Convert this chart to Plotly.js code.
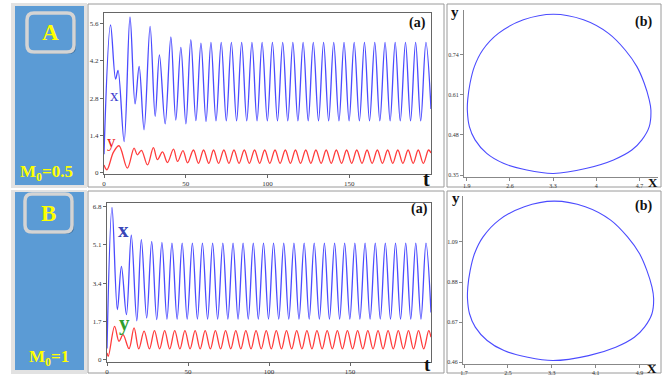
<!DOCTYPE html>
<html><head><meta charset="utf-8">
<script src="https://cdn.plot.ly/plotly-3.0.1.min.js"></script>
<style>html,body{margin:0;padding:0;background:#fff;overflow:hidden}#chart{width:667px;height:376px}</style>
</head><body><div id="chart"></div>
<script>
// ---------- DATA ----------
// Panel A (M0=0.5): time series, extrema
const tA_x = [0, 4.0, 7.1, 8.6, 12.3, 15.9, 19.0, 21.5, 24.5, 28.2, 31.3, 33.9, 37.4, 40.9, 43.9, 47.0, 50.1, 53.1, 56.2, 59.3, 62.4,
  65.4, 68.5, 71.7, 74.8, 77.9, 81.1, 84.2, 87.3, 90.5, 93.6, 96.7, 99.9, 103.0, 106.1, 109.3, 112.4, 115.5, 118.6, 121.8, 124.9,
  128.0, 131.2, 134.3, 137.4, 140.5, 143.7, 146.8, 149.9, 153.0, 156.2, 159.3, 162.4, 165.6, 168.7, 171.9, 175.0, 178.1, 181.2,
  184.4, 187.5, 190.6, 193.7, 196.9, 200];
const vA_x = [0.7, 5.55, 3.52, 3.85, 1.18, 5.85, 2.59, 4.0, 1.62, 5.5, 2.12, 4.43, 1.84, 5.1, 1.98, 4.71, 1.84, 5.0, 1.96, 4.87, 1.93,
  4.9, 1.95, 4.9, 1.95, 4.9, 1.95, 4.9, 1.95, 4.9, 1.95, 4.9, 1.95, 4.9, 1.95, 4.9, 1.95, 4.9, 1.95, 4.9, 1.95,
  4.9, 1.95, 4.9, 1.95, 4.9, 1.95, 4.9, 1.95, 4.9, 1.95, 4.9, 1.95, 4.9, 1.95, 4.9, 1.95, 4.9, 1.95,
  4.9, 1.95, 4.9, 1.95, 4.9, 2.4];
const tA_y = [0, 1.8, 5.8, 9.2, 14.3, 18.4, 20.4, 22.9, 26.6, 30.2, 32.7, 35.8, 38.8, 42.5, 45.0, 48.3, 51.1,
  54.7, 57.8, 60.9, 64.1, 67.0, 70.1, 73.3, 76.4, 79.5, 82.6, 85.8, 88.9, 92.1, 95.2, 98.3, 101.4, 104.6, 107.7,
  110.9, 114.0, 117.1, 120.2, 123.4, 126.5, 129.6, 132.8, 135.9, 139.0, 142.1, 145.3, 148.4, 151.5, 154.6, 157.8,
  160.9, 164.0, 167.2, 170.3, 173.5, 176.6, 179.7, 182.8, 186.0, 189.1, 192.2, 195.3, 198.5, 200];
const vA_y = [0.3, 0.12, 0.78, 1.02, 0.18, 0.93, 0.68, 0.85, 0.3, 0.95, 0.5, 0.79, 0.39, 0.89, 0.43, 0.84, 0.38,
  0.86, 0.36, 0.86, 0.36, 0.86, 0.36, 0.86, 0.36, 0.86, 0.36, 0.86, 0.36, 0.86, 0.36, 0.86, 0.36, 0.86, 0.36,
  0.86, 0.36, 0.86, 0.36, 0.86, 0.36, 0.86, 0.36, 0.86, 0.36, 0.86, 0.36, 0.86, 0.36, 0.86, 0.36,
  0.86, 0.36, 0.86, 0.36, 0.86, 0.36, 0.86, 0.36, 0.86, 0.36, 0.86, 0.36, 0.86, 0.75];
// Panel B (M0=1): time series
const tB_x = [0, 3.1, 6.4, 8.9, 12.0, 15.0, 18.4, 21.2, 24.5, 27.6, 30.7, 33.9, 37.0, 40.1, 43.3, 46.4, 49.5, 52.7, 55.8,
  58.9, 62.1, 65.2, 68.3, 71.5, 74.6, 77.8, 80.9, 84.0, 87.2, 90.3, 93.4, 96.6, 99.7, 102.8, 106.0, 109.1, 112.2,
  115.4, 118.5, 121.7, 124.8, 127.9, 131.1, 134.2, 137.3, 140.5, 143.6, 146.7, 149.9, 153.0, 156.1, 159.3, 162.4,
  165.6, 168.7, 171.8, 175.0, 178.1, 181.2, 184.4, 187.5, 190.6, 193.8, 196.9, 200];
const vB_x = [0.5, 6.75, 2.22, 4.14, 2.0, 5.52, 1.73, 5.33, 1.85, 5.25, 1.78, 5.2, 1.8, 5.17, 1.8, 5.17, 1.8, 5.17, 1.8,
  5.17, 1.8, 5.17, 1.8, 5.17, 1.8, 5.17, 1.8, 5.17, 1.8, 5.17, 1.8, 5.17, 1.8, 5.17, 1.8, 5.17, 1.8,
  5.17, 1.8, 5.17, 1.8, 5.17, 1.8, 5.17, 1.8, 5.17, 1.8, 5.17, 1.8, 5.17, 1.8, 5.17, 1.8,
  5.17, 1.8, 5.17, 1.8, 5.17, 1.8, 5.17, 1.8, 5.17, 1.8, 5.17, 2.1];
const tB_y = [0, 0.8, 4.7, 7.4, 9.9, 13.6, 16.7, 19.6, 22.9, 26.2, 29.3, 32.5, 35.6, 38.7, 41.8, 45.0, 48.1, 51.3,
  54.4, 57.5, 60.6, 63.8, 66.9, 70.1, 73.2, 76.4, 79.5, 82.6, 85.7, 88.9, 92.0, 95.2, 98.3, 101.4, 104.5, 107.7,
  110.8, 114.0, 117.1, 120.3, 123.4, 126.5, 129.6, 132.8, 135.9, 139.1, 142.2, 145.3, 148.4, 151.6, 154.7, 157.9,
  161.0, 164.2, 167.3, 170.4, 173.5, 176.7, 179.8, 183.0, 186.1, 189.2, 192.3, 195.5, 198.6, 200];
const vB_y = [0.3, 0.15, 1.48, 0.82, 1.11, 0.49, 1.41, 0.48, 1.27, 0.48, 1.29, 0.48, 1.29, 0.48, 1.29, 0.48, 1.29, 0.48,
  1.29, 0.48, 1.29, 0.48, 1.29, 0.48, 1.29, 0.48, 1.29, 0.48, 1.29, 0.48, 1.29, 0.48, 1.29, 0.48, 1.29, 0.48,
  1.29, 0.48, 1.29, 0.48, 1.29, 0.48, 1.29, 0.48, 1.29, 0.48, 1.29, 0.48, 1.29, 0.48, 1.29, 0.48,
  1.29, 0.48, 1.29, 0.48, 1.29, 0.48, 1.29, 0.48, 1.29, 0.48, 1.29, 0.48, 1.29, 1.0];
// Phase portraits (limit cycles), points read around the loop (clockwise from the top)
const phA_x = [3.305, 3.792, 4.198, 4.468, 4.658, 4.777, 4.858, 4.885, 4.858, 4.739, 4.576, 4.279, 3.846, 3.305,
  2.873, 2.494, 2.224, 2.035, 1.943, 1.91, 1.916, 1.954, 2.024, 2.159, 2.413, 2.819, 3.305];
const phA_y = [0.872, 0.854, 0.810, 0.756, 0.702, 0.648, 0.594, 0.561, 0.507, 0.464, 0.431, 0.399, 0.372, 0.355,
  0.366, 0.388, 0.420, 0.464, 0.507, 0.561, 0.594, 0.648, 0.702, 0.756, 0.810, 0.854, 0.872];
const phB_x = [3.342, 3.910, 4.373, 4.681, 4.898, 5.033, 5.126, 5.157, 5.126, 4.990, 4.805, 4.465, 3.972, 3.323,
  2.861, 2.428, 2.120, 1.904, 1.799, 1.762, 1.768, 1.811, 1.891, 2.046, 2.336, 2.799, 3.342];
const phB_y = [1.303, 1.274, 1.204, 1.116, 1.029, 0.941, 0.854, 0.792, 0.714, 0.644, 0.591, 0.539, 0.495, 0.469,
  0.486, 0.521, 0.574, 0.644, 0.714, 0.792, 0.854, 0.941, 1.029, 1.116, 1.204, 1.274, 1.303];
// Tick labels
const tsXticks = [0, 50, 100, 150];
const tsAYticks = [0, 1.4, 2.8, 4.2, 5.6];
const tsBYticks = [0, 1.7, 3.4, 5.1, 6.8];
const phAXticks = [1.9, 2.6, 3.3, 4, 4.7];
const phAYticks = [0.35, 0.48, 0.61, 0.74];
const phBXticks = [1.7, 2.5, 3.3, 4.1, 4.9];
const phBYticks = [0.46, 0.67, 0.88, 1.09];
const panelLabels = ['A', 'B'];
const panelParams = ['M<sub>0</sub>=0.5', 'M<sub>0</sub>=1'];

// ---------- LAYOUT ----------
const W = 667, H = 376;
const px = v => v / W, py = v => 1 - v / H;
const SERIF = 'Liberation Serif, Times New Roman, serif';
const BLUE = '#4b4bff', RED = '#ff3c3c';

function rr(x0, y0, x1, y1, r) {
  return `M${px(x0+r)},${py(y0)} L${px(x1-r)},${py(y0)} Q${px(x1)},${py(y0)} ${px(x1)},${py(y0+r)} ` +
    `L${px(x1)},${py(y1-r)} Q${px(x1)},${py(y1)} ${px(x1-r)},${py(y1)} L${px(x0+r)},${py(y1)} ` +
    `Q${px(x0)},${py(y1)} ${px(x0)},${py(y1-r)} L${px(x0)},${py(y0+r)} Q${px(x0)},${py(y0)} ${px(x0+r)},${py(y0)} Z`;
}
function rect(x0, y0, x1, y1, fill, line, lw) {
  return {type: 'rect', xref: 'paper', yref: 'paper', x0: px(x0), x1: px(x1), y0: py(y1), y1: py(y0),
    fillcolor: fill || 'rgba(0,0,0,0)', line: {color: line || 'rgba(0,0,0,0)', width: lw || 0}, layer: 'below'};
}
const shapes = [
  rect(11, 3, 87, 188, '#e2e2e2'), rect(15, 6, 84, 185, '#5b9bd5'),
  rect(11, 190, 87, 374, '#e2e2e2'), rect(15, 192, 84, 370, '#5b9bd5'),
  {type: 'path', xref: 'paper', yref: 'paper', path: rr(29, 15, 76, 54, 7), fillcolor: '#41729f', line: {width: 0}, layer: 'below'},
  {type: 'path', xref: 'paper', yref: 'paper', path: rr(27, 13, 74, 52, 7), fillcolor: '#5b9bd5', line: {color: '#d4d4d4', width: 3.5}, layer: 'below'},
  {type: 'path', xref: 'paper', yref: 'paper', path: rr(27, 196, 74, 234, 7), fillcolor: '#41729f', line: {width: 0}, layer: 'below'},
  {type: 'path', xref: 'paper', yref: 'paper', path: rr(25, 194, 72, 232, 7), fillcolor: '#5b9bd5', line: {color: '#d4d4d4', width: 3.5}, layer: 'below'},
  rect(88, 4, 444, 187, null, '#9a9a9a', 1), rect(88, 191, 444, 373, null, '#9a9a9a', 1),
  rect(447, 4, 661, 187, null, '#9a9a9a', 1), rect(447, 191, 661, 373, null, '#9a9a9a', 1)
];

function ann(text, x, y, size, color, bold) {
  return {text: text, xref: 'paper', yref: 'paper', x: px(x), y: py(y), xanchor: 'center', yanchor: 'middle',
    showarrow: false, font: {family: SERIF, size: size, color: color, weight: bold ? 'bold' : 'normal'}};
}
const annotations = [
  ann(panelLabels[0], 50.5, 33, 23, '#ffff00', true), ann(panelLabels[1], 48.5, 213, 23, '#ffff00', true),
  ann(panelParams[0], 46, 173, 17, '#ffff00', true), ann(panelParams[1], 49, 358, 17, '#ffff00', true),
  ann('(a)', 418, 23, 14, '#111', true), ann('(a)', 419, 209, 14, '#111', true),
  ann('t', 426, 179, 20, '#111', true), ann('t', 427, 364, 19, '#111', true),
  ann('x', 114, 96, 17, '#4040d0', false), ann('y', 111, 141, 17, '#ee2020', false),
  ann('x', 123, 230, 21, '#3a46b8', true), ann('y', 124, 323, 21, '#2e9e2e', true),
  ann('(b)', 643, 22, 14, '#111', true), ann('(b)', 643, 206, 14, '#111', true),
  ann('y', 455, 12, 15, '#111', true), ann('y', 456, 198, 15, '#111', true),
  ann('X', 653, 182, 13, '#111', true), ann('X', 652, 368, 13, '#111', true)
];

const tickFont = {family: SERIF, size: 7, color: '#333'};
const tickFontS = {family: SERIF, size: 6, color: '#333'};
function ax(domain, range, vals, anchor, mirror, color, font) {
  return {domain: domain, range: range, tickvals: vals, ticktext: vals.map(String), anchor: anchor,
    showline: true, mirror: mirror, linecolor: color, linewidth: 1, ticks: 'outside', ticklen: 3, tickcolor: color,
    showgrid: false, zeroline: false, tickfont: font, fixedrange: true};
}

const layout = {
  width: W, height: H, margin: {l: 0, r: 0, t: 0, b: 0}, paper_bgcolor: '#ffffff', plot_bgcolor: 'rgba(0,0,0,0)',
  showlegend: false, shapes: shapes, annotations: annotations,
  xaxis: ax([px(104), px(431)], [0, 200], tsXticks, 'y', true, '#666', tickFont),
  yaxis: ax([py(174), py(13)], [-0.04, 6.0], tsAYticks, 'x', true, '#666', tickFont),
  xaxis2: ax([px(107), px(431)], [0, 200], tsXticks, 'y2', true, '#666', tickFont),
  yaxis2: ax([py(362), py(203)], [-0.1, 6.95], tsBYticks, 'x2', true, '#666', tickFont),
  xaxis3: ax([px(464), px(658)], [1.856, 5.0], phAXticks, 'y3', false, '#888', tickFontS),
  yaxis3: ax([py(177), py(10)], [0.3435, 0.886], phAYticks, 'x3', false, '#888', tickFontS),
  xaxis4: ax([px(463), px(656)], [1.68, 5.2], phBXticks, 'y4', false, '#888', tickFontS),
  yaxis4: ax([py(364), py(196)], [0.451, 1.33], phBYticks, 'x4', false, '#888', tickFontS)
};

function tr(x, y, xa, ya, color, w, sm) {
  return {x: x, y: y, xaxis: xa, yaxis: ya, type: 'scatter', mode: 'lines', hoverinfo: 'skip',
    line: {color: color, width: w, shape: 'spline', smoothing: sm}};
}
const data = [
  tr(tA_x, vA_x, 'x', 'y', BLUE, 1.3, 1), tr(tA_y, vA_y, 'x', 'y', RED, 1.3, 1),
  tr(tB_x, vB_x, 'x2', 'y2', BLUE, 1.3, 1), tr(tB_y, vB_y, 'x2', 'y2', RED, 1.3, 1),
  tr(phA_x, phA_y, 'x3', 'y3', BLUE, 1.1, 1), tr(phB_x, phB_y, 'x4', 'y4', BLUE, 1.1, 1)
];
Plotly.newPlot('chart', data, layout, {staticPlot: true, displayModeBar: false});
</script>
</body></html>
